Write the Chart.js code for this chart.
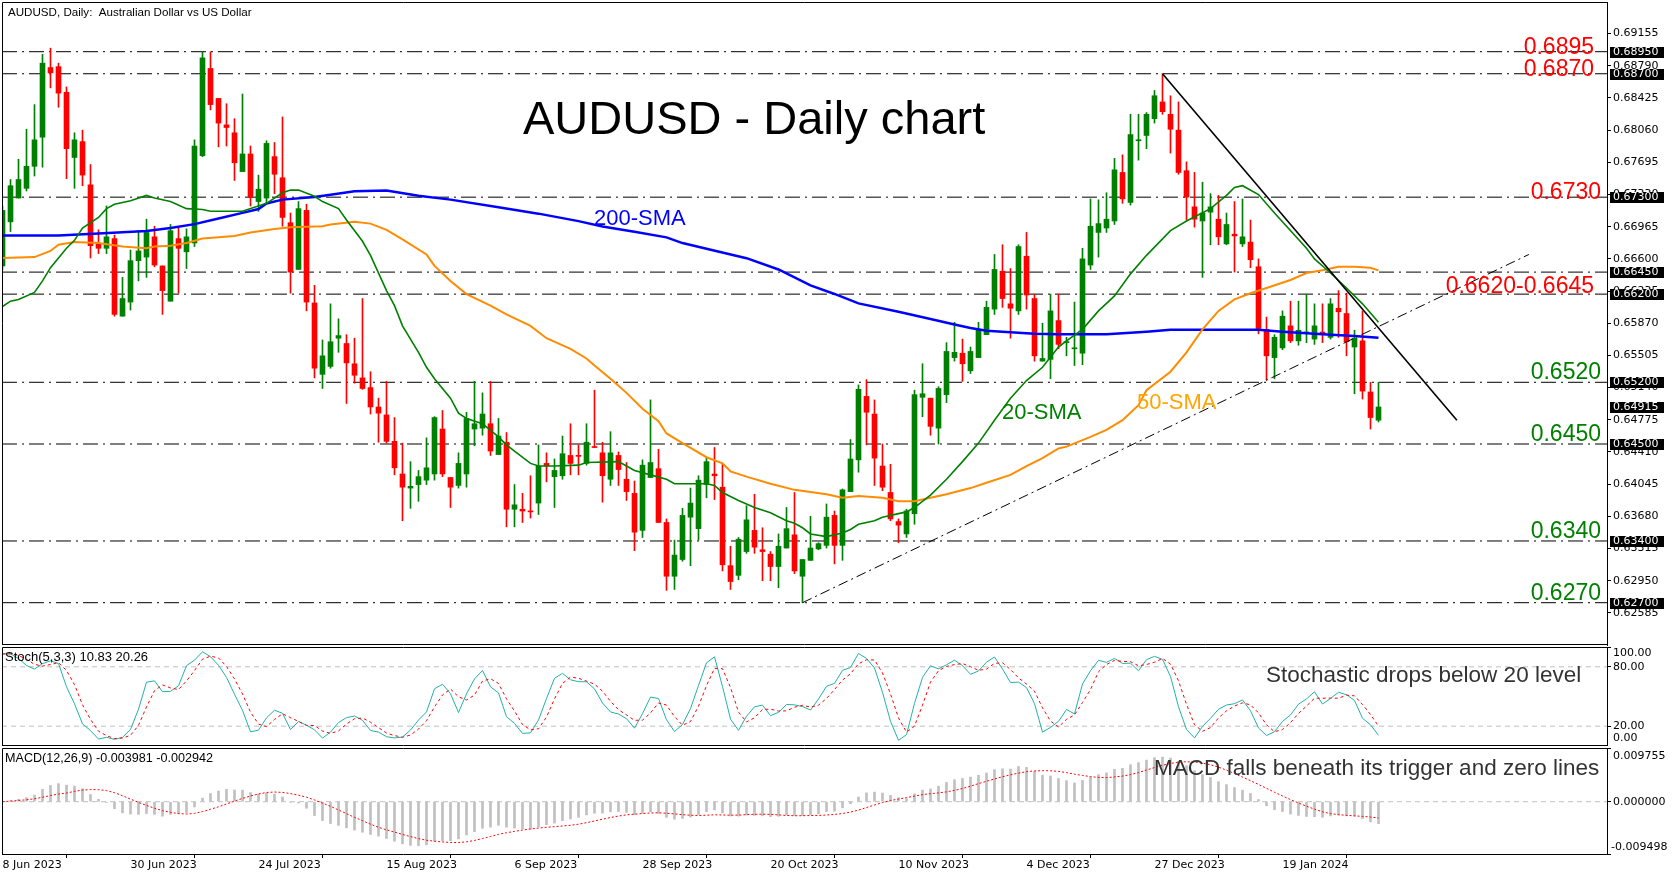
<!DOCTYPE html>
<html>
<head>
<meta charset="utf-8">
<title>AUDUSD Daily</title>
<script src="https://cdn.jsdelivr.net/npm/chart.js@4.4.1/dist/chart.umd.min.js"></script>
<style>
  html, body { margin: 0; padding: 0; background: #fff; }
  #wrap { position: relative; width: 1677px; height: 877px; overflow: hidden; background: #fff; }
  canvas { position: absolute; left: 0; }
</style>
</head>
<body>
<div id="wrap">
  <canvas id="mainChart" width="1677" height="646" style="top:0px"></canvas>
  <canvas id="stochChart" width="1677" height="100" style="top:646px"></canvas>
  <canvas id="macdChart" width="1677" height="130" style="top:747px"></canvas>
</div>
<script>
// daily candles, 8 Jun 2023 .. 6 Feb 2024 (bar index = position)
const opens = [
  0.6652,0.6702,0.6729,0.6740,0.6765,0.6798,0.6877,0.6878,0.6849,0.6775,
  0.6793,0.6744,0.6677,0.6672,0.6683,0.6595,0.6611,0.6658,0.6662,0.6685,
  0.6652,0.6612,0.6683,0.6668,0.6678,0.6777,0.6876,0.6842,0.6812,0.6803,
  0.6759,0.6779,0.6725,0.6729,0.6776,0.6752,0.6701,0.6648,0.6715,0.6610,
  0.6529,0.6538,0.6570,0.6564,0.6541,0.6525,0.6514,0.6492,0.6483,0.6453,
  0.6416,0.6400,0.6404,0.6409,0.6416,0.6467,0.6412,0.6403,0.6416,0.6467,
  0.6468,0.6473,0.6438,0.6452,0.6376,0.6376,0.6374,0.6383,0.6428,0.6413,
  0.6414,0.6437,0.6437,0.6428,0.6447,0.6440,0.6410,0.6437,0.6410,0.6394,
  0.6352,0.6412,0.6422,0.6361,0.6300,0.6319,0.6367,0.6354,0.6404,0.6416,
  0.6401,0.6312,0.6301,0.6328,0.6352,0.6330,0.6325,0.6311,0.6332,0.6347,
  0.6300,0.6318,0.6331,0.6335,0.6369,0.6335,0.6396,0.6432,0.6504,0.6484,
  0.6425,0.6395,0.6362,0.6348,0.6371,0.6503,0.6502,0.6468,0.6506,0.6548,
  0.6553,0.6533,0.6548,0.6574,0.6603,0.6646,0.6609,0.6601,0.6663,0.6615,
  0.6544,0.6546,0.6590,0.6565,0.6558,0.6553,0.6653,0.6690,0.6695,0.6703,
  0.6758,0.6724,0.6794,0.6800,0.6819,0.6838,0.6824,0.6806,0.6760,0.6719,
  0.6703,0.6713,0.6705,0.6677,0.6688,0.6677,0.6679,0.6651,0.6580,0.6548,
  0.6559,0.6584,0.6567,0.6576,0.6569,0.6577,0.6571,0.6604,0.6598,0.6560,
  0.6567,0.6509,0.6477
];
const highs = [
  0.6720,0.6750,0.6773,0.6807,0.6835,0.6892,0.6899,0.6882,0.6855,0.6803,
  0.6806,0.6767,0.6693,0.6720,0.6687,0.6639,0.6670,0.6692,0.6705,0.6697,
  0.6652,0.6699,0.6695,0.6694,0.6795,0.6895,0.6895,0.6842,0.6836,0.6819,
  0.6847,0.6788,0.6755,0.6794,0.6792,0.6821,0.6712,0.6725,0.6722,0.6630,
  0.6568,0.6609,0.6592,0.6574,0.6570,0.6615,0.6532,0.6502,0.6521,0.6480,
  0.6451,0.6430,0.6420,0.6457,0.6481,0.6488,0.6412,0.6440,0.6486,0.6521,
  0.6508,0.6521,0.6479,0.6463,0.6404,0.6394,0.6414,0.6449,0.6440,0.6433,
  0.6459,0.6473,0.6449,0.6473,0.6511,0.6452,0.6464,0.6441,0.6429,0.6408,
  0.6432,0.6500,0.6444,0.6365,0.6341,0.6377,0.6400,0.6414,0.6434,0.6446,
  0.6428,0.6334,0.6344,0.6380,0.6393,0.6355,0.6328,0.6348,0.6378,0.6395,
  0.6319,0.6368,0.6338,0.6382,0.6374,0.6399,0.6455,0.6517,0.6523,0.6500,
  0.6450,0.6427,0.6365,0.6376,0.6511,0.6541,0.6502,0.6515,0.6565,0.6588,
  0.6569,0.6560,0.6588,0.6612,0.6665,0.6676,0.6649,0.6676,0.6690,0.6620,
  0.6587,0.6620,0.6620,0.6571,0.6611,0.6672,0.6728,0.6727,0.6735,0.6774,
  0.6778,0.6824,0.6824,0.6826,0.6851,0.6870,0.6845,0.6838,0.6770,0.6758,
  0.6747,0.6734,0.6732,0.6712,0.6725,0.6728,0.6704,0.6660,0.6594,0.6574,
  0.6601,0.6612,0.6612,0.6620,0.6609,0.6609,0.6615,0.6624,0.6621,0.6579,
  0.6601,0.6520,0.6520
];
const lows = [
  0.6648,0.6691,0.6729,0.6737,0.6754,0.6764,0.6854,0.6832,0.6751,0.6740,
  0.6743,0.6661,0.6666,0.6666,0.6595,0.6595,0.6602,0.6635,0.6639,0.6651,
  0.6597,0.6612,0.6621,0.6649,0.6674,0.6776,0.6829,0.6787,0.6788,0.6749,
  0.6759,0.6720,0.6714,0.6725,0.6734,0.6697,0.6621,0.6648,0.6601,0.6525,
  0.6513,0.6536,0.6554,0.6496,0.6519,0.6512,0.6484,0.6452,0.6451,0.6415,
  0.6363,0.6377,0.6385,0.6404,0.6409,0.6413,0.6378,0.6400,0.6401,0.6448,
  0.6460,0.6437,0.6438,0.6356,0.6356,0.6361,0.6366,0.6370,0.6407,0.6378,
  0.6410,0.6415,0.6415,0.6426,0.6446,0.6384,0.6403,0.6403,0.6386,0.6329,
  0.6344,0.6412,0.6361,0.6284,0.6285,0.6317,0.6312,0.6341,0.6389,0.6387,
  0.6306,0.6285,0.6296,0.6326,0.6326,0.6295,0.6295,0.6287,0.6332,0.6303,
  0.6270,0.6318,0.6330,0.6332,0.6314,0.6318,0.6396,0.6418,0.6449,0.6403,
  0.6397,0.6363,0.6338,0.6344,0.6359,0.6481,0.6460,0.6450,0.6497,0.6544,
  0.6521,0.6530,0.6548,0.6574,0.6597,0.6605,0.6570,0.6597,0.6603,0.6544,
  0.6544,0.6524,0.6558,0.6550,0.6539,0.6540,0.6648,0.6662,0.6690,0.6699,
  0.6723,0.6721,0.6772,0.6785,0.6814,0.6824,0.6780,0.6756,0.6704,0.6696,
  0.6639,0.6676,0.6676,0.6676,0.6645,0.6674,0.6650,0.6575,0.6523,0.6524,
  0.6557,0.6565,0.6562,0.6565,0.6563,0.6565,0.6569,0.6571,0.6550,0.6507,
  0.6501,0.6467,0.6475
];
const closes = [
  0.6715,0.6743,0.6750,0.6765,0.6795,0.6882,0.6871,0.6848,0.6785,0.6795,
  0.6755,0.6675,0.6672,0.6685,0.6597,0.6615,0.6658,0.6669,0.6690,0.6653,
  0.6624,0.6692,0.6672,0.6685,0.6788,0.6888,0.6835,0.6814,0.6809,0.6769,
  0.6779,0.6730,0.6739,0.6791,0.6756,0.6707,0.6645,0.6717,0.6611,0.6536,
  0.6550,0.6566,0.6573,0.6542,0.6528,0.6513,0.6492,0.6485,0.6453,0.6423,
  0.6401,0.6402,0.6413,0.6423,0.6480,0.6416,0.6401,0.6428,0.6479,0.6473,
  0.6484,0.6442,0.6459,0.6376,0.6381,0.6374,0.6373,0.6425,0.6425,0.6420,
  0.6439,0.6428,0.6436,0.6452,0.6446,0.6414,0.6440,0.6421,0.6396,0.6350,
  0.6426,0.6429,0.6361,0.6300,0.6324,0.6369,0.6383,0.6409,0.6430,0.6414,
  0.6313,0.6294,0.6342,0.6364,0.6333,0.6328,0.6311,0.6334,0.6354,0.6306,
  0.6319,0.6332,0.6337,0.6367,0.6335,0.6398,0.6433,0.6512,0.6486,0.6434,
  0.6401,0.6365,0.6358,0.6374,0.6506,0.6507,0.6470,0.6513,0.6555,0.6554,
  0.6541,0.6555,0.6579,0.6605,0.6648,0.6615,0.6604,0.6674,0.6619,0.6550,
  0.6547,0.6601,0.6563,0.6566,0.6559,0.6660,0.6697,0.6700,0.6705,0.6761,
  0.6728,0.6801,0.6795,0.6824,0.6845,0.6827,0.6807,0.6758,0.6730,0.6705,
  0.6712,0.6719,0.6685,0.6699,0.6686,0.6685,0.6659,0.6581,0.6550,0.6571,
  0.6595,0.6567,0.6579,0.6577,0.6584,0.6574,0.6609,0.6600,0.6566,0.6570,
  0.6510,0.6480,0.6492
];

// moving averages (bar index, value)
const sma20Bars = [0,1,2,4,5,6,8,9,10,12,13,14,16,18,19,21,23,25,26,29,30,33,35,36,37,39,40,42,43,45,46,48,49,50,52,53,54,56,57,58,60,62,63,64,66,67,69,72,73,77,78,79,81,83,84,88,89,90,92,94,96,98,99,100,101,103,105,106,107,109,110,112,113,114,115,116,118,120,122,124,126,128,130,132,133,135,137,139,141,143,146,148,151,153,154,155,157,159,163,164,166,168,170,172];
const sma20 = [0.6606,0.6612,0.6614,0.6622,0.6635,0.6650,0.6672,0.6681,0.6695,0.6707,0.6717,0.6722,0.6726,0.6732,0.6729,0.6725,0.6717,0.6716,0.6714,0.6714,0.6714,0.6723,0.6735,0.6738,0.6738,0.6731,0.6725,0.6717,0.6704,0.6680,0.6664,0.6624,0.6607,0.6584,0.6554,0.6537,0.6524,0.6502,0.6485,0.6479,0.6473,0.6458,0.6449,0.6442,0.6428,0.6425,0.6425,0.6426,0.6429,0.6430,0.6425,0.6420,0.6415,0.6410,0.6405,0.6405,0.6403,0.6395,0.6386,0.6378,0.6372,0.6363,0.6360,0.6355,0.6348,0.6345,0.6349,0.6353,0.6359,0.6363,0.6367,0.6371,0.6373,0.6378,0.6385,0.6392,0.6410,0.6430,0.6451,0.6477,0.6502,0.6522,0.6537,0.6560,0.6567,0.6580,0.6601,0.6618,0.6643,0.6664,0.6692,0.6703,0.6717,0.6732,0.6741,0.6743,0.6733,0.6712,0.6672,0.6660,0.6644,0.6627,0.6609,0.6588];
const sma50Bars = [0,4,6,7,9,12,15,18,19,21,23,25,29,31,34,36,40,41,44,46,48,50,53,54,56,58,61,63,66,68,71,73,74,76,78,80,82,83,85,88,90,91,93,96,99,103,105,107,110,112,114,116,118,121,123,126,128,130,132,133,136,138,140,142,143,146,148,150,152,154,156,158,161,163,165,167,169,171,172];
const sma50 = [0.6661,0.6662,0.6669,0.6676,0.6679,0.6678,0.6674,0.6672,0.6674,0.6675,0.6678,0.6683,0.6686,0.6690,0.6694,0.6696,0.6697,0.6699,0.6702,0.6700,0.6693,0.6682,0.6665,0.6652,0.6635,0.6620,0.6607,0.6597,0.6584,0.6570,0.6558,0.6547,0.6539,0.6524,0.6508,0.6490,0.6476,0.6462,0.6451,0.6435,0.6428,0.6419,0.6413,0.6405,0.6398,0.6393,0.6389,0.6391,0.6389,0.6385,0.6385,0.6389,0.6393,0.6400,0.6406,0.6415,0.6425,0.6434,0.6445,0.6447,0.6458,0.6466,0.6477,0.6494,0.6511,0.6532,0.6554,0.6580,0.6601,0.6614,0.6621,0.6627,0.6636,0.6644,0.6647,0.6651,0.6651,0.6650,0.6647];
const sma200Bars = [0,7,12,18,21,24,27,30,32,33,35,39,41,44,48,52,56,62,67,72,75,79,83,85,88,93,97,101,104,107,112,116,119,121,123,126,129,132,138,143,146,157,160,165,169,172];
const sma200 = [0.66865,0.66865,0.66887,0.66917,0.66951,0.66994,0.67058,0.67122,0.67165,0.67229,0.67272,0.67302,0.67328,0.67366,0.67375,0.67315,0.67272,0.67186,0.67113,0.67028,0.66968,0.66908,0.66844,0.66779,0.66715,0.66608,0.6648,0.6630,0.66202,0.66095,0.66,0.65919,0.65855,0.65816,0.65786,0.65769,0.65752,0.65744,0.65744,0.65774,0.65795,0.65795,0.65774,0.65744,0.65726,0.65705];

const levels = [0.6895, 0.6870, 0.6730, 0.6645, 0.6620, 0.6520, 0.6450, 0.6340, 0.6270];
const lastPrice = 0.64915;
const priceTicks = [0.69155,0.68790,0.68425,0.68060,0.67695,0.67330,0.66965,0.66600,0.66235,0.65870,0.65505,0.65140,0.64775,0.64410,0.64045,0.63680,0.63315,0.62950,0.62585];
const dateTicks = ['8 Jun 2023','30 Jun 2023','24 Jul 2023','15 Aug 2023','6 Sep 2023','28 Sep 2023','20 Oct 2023','10 Nov 2023','4 Dec 2023','27 Dec 2023','19 Jan 2024'];
const resistTexts = ['0.6895', '0.6870', '0.6730', '0.6620-0.6645'];
const resistAt = [0.6895, 0.6870, 0.6730, 0.6620];
const supportTexts = ['0.6520', '0.6450', '0.6340', '0.6270'];
const supportAt = [0.6520, 0.6450, 0.6340, 0.6270];
const trendDown = [[145, 0.6870], [181.8, 0.6477]];
const trendUp = [[100, 0.6270], [190.8, 0.6665]];

const X_MIN = -0.0625, X_MAX = 200.5625;
const BARS_PER_DATE = 16;
const UP = '#008000', DOWN = '#ff0000';
const axisFont = { family: 'DejaVu Sans', size: 11 };
const SANS = '"Liberation Sans", Arial, sans-serif';

// Stochastic (5,3,3) and MACD (12,26,9) from the candles above
const stochK = closes.map((c, i) => {
  let num = 0, den = 0;
  for (let j = Math.max(0, i - 2); j <= i; j++) {
    const from = Math.max(0, j - 4);
    const hh = Math.max(...highs.slice(from, j + 1));
    const ll = Math.min(...lows.slice(from, j + 1));
    num += closes[j] - ll;
    den += hh - ll;
  }
  return den > 0 ? 100 * num / den : 50;
});
const mean = arr => arr.reduce((s, v) => s + v, 0) / arr.length;
const stochD = stochK.map((_, i) => mean(stochK.slice(Math.max(0, i - 2), i + 1)));

function ema(vals, n) {
  const k = 2 / (n + 1);
  let e = vals[0];
  return vals.map(v => (e += k * (v - e)));
}
const ema12 = ema(closes, 12), ema26 = ema(closes, 26);
const macdMain = closes.map((_, i) => ema12[i] - ema26[i]);
const macdSignal = macdMain.map((_, i) => mean(macdMain.slice(Math.max(0, i - 8), i + 1)));

const candleColors = closes.map((c, i) => c >= opens[i] ? UP : DOWN);
const pts = (bars, vals) => bars.map((b, k) => ({ x: b, y: vals[k] }));
const series = vals => vals.map((v, i) => ({ x: i, y: v }));
const hline = v => [{ x: X_MIN, y: v }, { x: X_MAX, y: v }];
const seg = p => p.map(([x, y]) => ({ x, y }));

function xHidden() {
  return { type: 'linear', min: X_MIN, max: X_MAX, display: false, offset: false };
}
function rightAxis(min, max, tickVals, fmt) {
  return {
    position: 'right', min, max,
    afterBuildTicks: s => { s.ticks = tickVals.map(v => ({ value: v })); },
    afterFit: s => { s.width = 70; s.paddingTop = 0; s.paddingBottom = 0; },
    ticks: { callback: fmt, font: axisFont, color: '#000', padding: 2, autoSkip: false },
    grid: { drawOnChartArea: false, tickLength: 4, color: '#000' },
    border: { display: true, color: '#000' }
  };
}
const baseOptions = {
  responsive: false, animation: false, events: [],
  plugins: { legend: { display: false }, tooltip: { enabled: false } }
};

function frame(ctx, a, bottom) {
  ctx.strokeStyle = '#000';
  ctx.lineWidth = 1;
  ctx.beginPath();
  ctx.moveTo(a.left + 0.5, a.bottom);
  ctx.lineTo(a.left + 0.5, a.top + 0.5);
  ctx.lineTo(a.right, a.top + 0.5);
  if (bottom) {
    ctx.moveTo(a.left, a.bottom - 0.5);
    ctx.lineTo(a.right, a.bottom - 0.5);
  }
  ctx.stroke();
}

// ---------- price panel ----------
new Chart(document.getElementById('mainChart'), {
  type: 'bar',
  data: {
    datasets: [
      ...levels.map(v => ({
        type: 'line', data: hline(v), borderColor: '#000', borderWidth: 1,
        borderDash: [15, 5, 2, 5], pointRadius: 0, order: 20
      })),
      { type: 'bar', data: lows.map((l, i) => ({ x: i, y: [l, highs[i]] })),
        backgroundColor: candleColors, barThickness: 1, grouped: false, order: 11 },
      { type: 'bar', data: opens.map((o, i) => ({ x: i, y: [o, closes[i]] })),
        backgroundColor: candleColors, barThickness: 5, minBarLength: 1, grouped: false, order: 10 },
      { type: 'line', data: pts(sma200Bars, sma200), borderColor: '#0000ff', borderWidth: 2.5, pointRadius: 0, order: 5 },
      { type: 'line', data: pts(sma50Bars, sma50), borderColor: '#ff8c00', borderWidth: 2, pointRadius: 0, order: 4 },
      { type: 'line', data: pts(sma20Bars, sma20), borderColor: '#008000', borderWidth: 1.6, pointRadius: 0, order: 3 },
      { type: 'line', data: seg(trendUp), borderColor: '#000', borderWidth: 1, borderDash: [10, 4, 2, 4], pointRadius: 0, order: 2 },
      { type: 'line', data: seg(trendDown), borderColor: '#000', borderWidth: 1.6, pointRadius: 0, order: 1 }
    ]
  },
  options: {
    ...baseOptions,
    layout: { padding: { left: 2, top: 2, right: 0, bottom: 1 } },
    scales: {
      x: xHidden(),
      y: rightAxis(0.622201, 0.695137, priceTicks, v => v.toFixed(5))
    }
  },
  plugins: [{
    id: 'priceDecor',
    afterDraw(chart) {
      const { ctx, chartArea: a, scales: { y } } = chart;
      ctx.save();
      frame(ctx, a, true);
      ctx.font = '11px "DejaVu Sans"';
      ctx.textAlign = 'left';
      ctx.textBaseline = 'middle';
      [...levels, lastPrice].forEach(v => {
        const py = Math.round(y.getPixelForValue(v));
        ctx.fillStyle = '#000';
        ctx.fillRect(a.right + 3, py - 5, 54, 11);
        ctx.fillStyle = '#fff';
        ctx.fillText(v.toFixed(5), a.right + 6, py + 0.5);
      });
      ctx.textBaseline = 'alphabetic';
      ctx.fillStyle = '#000';
      ctx.font = '11.6px ' + SANS;
      ctx.fillText('AUDUSD, Daily:  Australian Dollar vs US Dollar', 8, 16);
      ctx.font = '47px ' + SANS;
      ctx.fillText('AUDUSD - Daily chart', 523, 134);
      ctx.font = '22px ' + SANS;
      ctx.fillStyle = '#0000ff'; ctx.fillText('200-SMA', 594, 225);
      ctx.fillStyle = '#008000'; ctx.fillText('20-SMA', 1002, 419);
      ctx.fillStyle = '#ffa500'; ctx.fillText('50-SMA', 1137, 409);
      ctx.font = '23px ' + SANS;
      ctx.textAlign = 'right';
      ctx.fillStyle = '#ff0000';
      resistTexts.forEach((t, k) => {
        const right = k === 2 ? 1601 : 1594;
        const dy = k === 3 ? -1 : 2;
        ctx.fillText(t, right, y.getPixelForValue(resistAt[k]) + dy);
      });
      ctx.fillStyle = '#008000';
      supportTexts.forEach((t, k) => {
        ctx.fillText(t, 1601, y.getPixelForValue(supportAt[k]) - 3);
      });
      ctx.restore();
    }
  }]
});

// ---------- stochastic panel ----------
new Chart(document.getElementById('stochChart'), {
  type: 'line',
  data: {
    datasets: [
      { data: hline(80), borderColor: '#c0c0c0', borderWidth: 1, borderDash: [5, 4], pointRadius: 0, order: 5 },
      { data: hline(20), borderColor: '#c0c0c0', borderWidth: 1, borderDash: [5, 4], pointRadius: 0, order: 5 },
      { data: series(stochK), borderColor: '#20b2aa', borderWidth: 1, pointRadius: 0, order: 2 },
      { data: series(stochD), borderColor: '#ff0000', borderWidth: 1, borderDash: [3, 3], pointRadius: 0, order: 1 }
    ]
  },
  options: {
    ...baseOptions,
    layout: { padding: { left: 2, top: 1, right: 0, bottom: 0 } },
    scales: {
      x: xHidden(),
      y: rightAxis(0, 100, [100, 80, 20, 0], v => (v === 80 || v === 20) ? v.toFixed(2) : '')
    }
  },
  plugins: [{
    id: 'stochDecor',
    afterDraw(chart) {
      const { ctx, chartArea: a } = chart;
      ctx.save();
      frame(ctx, a, true);
      ctx.fillStyle = '#000';
      ctx.font = '11px "DejaVu Sans"';
      ctx.textBaseline = 'middle';
      ctx.fillText('100.00', a.right + 6, a.top + 6);
      ctx.fillText('0.00', a.right + 6, a.bottom - 8);
      ctx.textBaseline = 'alphabetic';
      ctx.font = '13px ' + SANS;
      ctx.fillText('Stoch(5,3,3) 10.83 20.26', 5, 15);
      ctx.font = '22.5px ' + SANS;
      ctx.fillStyle = '#333';
      ctx.fillText('Stochastic drops below 20 level', 1266, 36);
      ctx.restore();
    }
  }]
});

// ---------- MACD panel ----------
new Chart(document.getElementById('macdChart'), {
  type: 'bar',
  data: {
    datasets: [
      { type: 'line', data: hline(0), borderColor: '#c0c0c0', borderWidth: 1, borderDash: [5, 4], pointRadius: 0, order: 5 },
      { type: 'bar', data: series(macdMain), backgroundColor: '#c0c0c0', barThickness: 2, grouped: false, order: 3 },
      { type: 'line', data: series(macdSignal), borderColor: '#ff0000', borderWidth: 1, borderDash: [2, 2], pointRadius: 0, order: 1 }
    ]
  },
  options: {
    ...baseOptions,
    layout: { padding: { left: 2, top: 1, right: 0, bottom: 0 } },
    scales: {
      x: {
        type: 'linear', min: X_MIN, max: X_MAX, position: 'bottom', offset: false,
        afterBuildTicks: s => { s.ticks = dateTicks.map((_, k) => ({ value: k * BARS_PER_DATE })); },
        afterFit: s => { s.height = 23; s.paddingLeft = 0; s.paddingRight = 0; },
        ticks: {
          callback: v => dateTicks[Math.round(v / BARS_PER_DATE)],
          align: 'start', maxRotation: 0, autoSkip: false, font: axisFont, color: '#000', padding: 1
        },
        grid: { drawOnChartArea: false, tickLength: 4, color: '#000' },
        border: { display: true, color: '#000' }
      },
      y: rightAxis(-0.009498, 0.009755, [0.009755, 0, -0.009498], v => v === 0 ? '0.000000' : '')
    }
  },
  plugins: [{
    id: 'macdDecor',
    afterDraw(chart) {
      const { ctx, chartArea: a } = chart;
      ctx.save();
      frame(ctx, a, false);
      ctx.fillStyle = '#000';
      ctx.font = '11px "DejaVu Sans"';
      ctx.textBaseline = 'middle';
      ctx.fillText('0.009755', a.right + 6, a.top + 8);
      ctx.fillText('-0.009498', a.right + 4, a.bottom - 7);
      ctx.textBaseline = 'alphabetic';
      ctx.font = '12.6px ' + SANS;
      ctx.fillText('MACD(12,26,9) -0.003981 -0.002942', 5, 15);
      ctx.font = '22.5px ' + SANS;
      ctx.fillStyle = '#333';
      ctx.fillText('MACD falls beneath its trigger and zero lines', 1154, 28);
      ctx.restore();
    }
  }]
});
</script>
</body>
</html>
